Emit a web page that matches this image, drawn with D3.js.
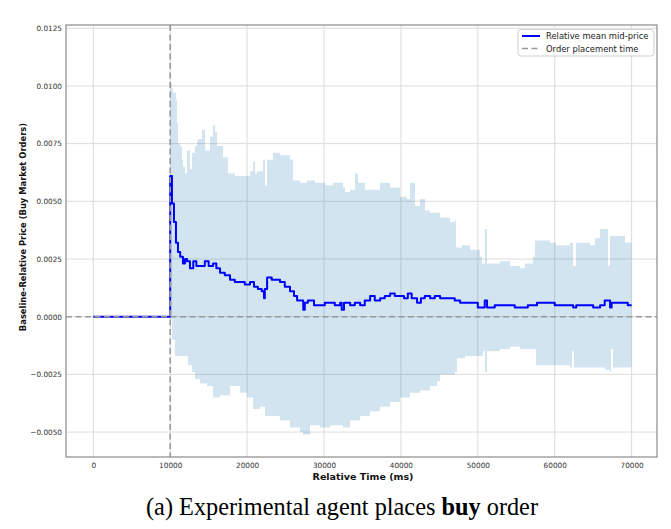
<!DOCTYPE html>
<html><head><meta charset="utf-8">
<script src="https://cdn.jsdelivr.net/npm/d3@7/dist/d3.min.js"></script>
<style>html,body{margin:0;padding:0;background:#fff;}</style>
</head><body>
<svg id="chart" width="671" height="529"></svg>
<script>
// ---- data ----
const xTicks = [0, 10000, 20000, 30000, 40000, 50000, 60000, 70000];
const yTicks = [-0.005, -0.0025, 0, 0.0025, 0.005, 0.0075, 0.01, 0.0125];
const yTickLabels = ["\u22120.0050", "\u22120.0025", "0.0000", "0.0025", "0.0050", "0.0075", "0.0100", "0.0125"];
const orderTime = 10000;

const meanTime = [0, 10000, 10001, 10230, 10490, 10750, 11010, 11300, 11660, 11920, 12180, 12570, 13000, 13400, 13880, 14500, 15000, 15570, 16000, 16480, 17100, 17780, 18400, 19080, 19700, 20380, 20900, 21400, 21900, 22200, 22300, 22600, 23200, 24280, 24900, 25580, 26100, 26500, 26900, 27300, 27500, 27900, 28700, 29500, 30100, 30800, 31400, 32100, 32300, 32600, 33400, 34000, 34700, 35300, 36000, 36600, 37300, 37900, 38600, 39200, 39900, 40400, 40900, 41400, 42100, 42600, 43100, 43800, 44400, 45100, 45700, 46400, 47000, 47700, 49000, 50000, 50400, 50900, 51200, 52200, 53500, 54800, 55500, 56500, 57700, 58700, 60000, 61300, 62100, 62400, 62800, 63900, 65000, 65900, 66500, 67100, 67200, 67400, 68200, 69100, 69500, 70000];
const meanValue = [0, 0, 0.0061, 0.0049, 0.0041, 0.0032, 0.0028, 0.0026, 0.0023, 0.0025, 0.0024, 0.0021, 0.0024, 0.0022, 0.0022, 0.0024, 0.0022, 0.0023, 0.0021, 0.0019, 0.0018, 0.0016, 0.0015, 0.0015, 0.0014, 0.0015, 0.0013, 0.0012, 0.0011, 0.0008, 0.0012, 0.0017, 0.0016, 0.0015, 0.0013, 0.0011, 0.0009, 0.0007, 0.0007, 0.0003, 0.0006, 0.0007, 0.0005, 0.0005, 0.0006, 0.0006, 0.0005, 0.0006, 0.0003, 0.0006, 0.0005, 0.0006, 0.0005, 0.0007, 0.0009, 0.0007, 0.0008, 0.0009, 0.0010, 0.0009, 0.0009, 0.0008, 0.0010, 0.0008, 0.0006, 0.0008, 0.0009, 0.0008, 0.0009, 0.0008, 0.0008, 0.0008, 0.0007, 0.0006, 0.0006, 0.0004, 0.0004, 0.0007, 0.0004, 0.0005, 0.0005, 0.0004, 0.0004, 0.0005, 0.0006, 0.0006, 0.0005, 0.0005, 0.0005, 0.0004, 0.0005, 0.0005, 0.0004, 0.0005, 0.0007, 0.0007, 0.0004, 0.0006, 0.0006, 0.0006, 0.0005, 0.0005];

const upperTime = [0, 10000, 10001, 10230, 10360, 10490, 10750, 10880, 11010, 11270, 11530, 11670, 11930, 12180, 12570, 12840, 13230, 13490, 13620, 14140, 14530, 15180, 15570, 15830, 16090, 16870, 17520, 18430, 19470, 20380, 20770, 21030, 21290, 22070, 22330, 22590, 23370, 24280, 25580, 25970, 26880, 27790, 28830, 30130, 31170, 32470, 32730, 33380, 34030, 34420, 35330, 37280, 38580, 39880, 40790, 41180, 41830, 42480, 43130, 43780, 45080, 46380, 47030, 47160, 47940, 48980, 50280, 50540, 50930, 51190, 52880, 54180, 55480, 56130, 57170, 57430, 59390, 60170, 61990, 62380, 62770, 64590, 65240, 65890, 66540, 66930, 67190, 67580, 69140, 69530, 70000];
const upperValue = [0, 0, 0.0101, 0.0099, 0.0097, 0.0097, 0.0094, 0.0084, 0.0075, 0.0074, 0.0068, 0.0065, 0.0062, 0.0072, 0.0064, 0.0071, 0.0074, 0.0076, 0.0077, 0.0081, 0.0072, 0.0078, 0.0083, 0.0080, 0.0074, 0.0069, 0.0062, 0.0061, 0.0061, 0.0063, 0.0067, 0.0062, 0.0063, 0.0068, 0.0057, 0.0068, 0.0071, 0.0070, 0.0068, 0.0059, 0.0058, 0.0059, 0.0058, 0.0057, 0.0058, 0.0056, 0.0054, 0.0055, 0.0062, 0.0058, 0.0055, 0.0058, 0.0056, 0.0052, 0.0051, 0.0058, 0.0048, 0.0051, 0.0046, 0.0045, 0.0043, 0.0041, 0.0042, 0.0030, 0.0031, 0.0029, 0.0026, 0.0023, 0.0038, 0.0023, 0.0024, 0.0022, 0.0021, 0.0023, 0.0026, 0.0033, 0.0032, 0.0031, 0.0032, 0.0022, 0.0032, 0.0031, 0.0034, 0.0038, 0.0038, 0.0022, 0.0035, 0.0035, 0.0032, 0.0032, 0.0032];

const lowerTime = [0, 10000, 10001, 10230, 10620, 11670, 12320, 12840, 13230, 13880, 14790, 15570, 16480, 17780, 18690, 19080, 19990, 20770, 21680, 22330, 23370, 24280, 25580, 26880, 27270, 28180, 29480, 30780, 32470, 33380, 34680, 35980, 37280, 38580, 39880, 41180, 42480, 43780, 44690, 45080, 46380, 47030, 47290, 48330, 50280, 50670, 50930, 51190, 52880, 54180, 55480, 57430, 57560, 59390, 61990, 62250, 62510, 64590, 66540, 67190, 67320, 67580, 70000];
const lowerValue = [0, 0, -0.0001, -0.0010, -0.0017, -0.0017, -0.0021, -0.0024, -0.0027, -0.0029, -0.0030, -0.0035, -0.0034, -0.0030, -0.0030, -0.0033, -0.0035, -0.0040, -0.0039, -0.0043, -0.0043, -0.0045, -0.0048, -0.0050, -0.0051, -0.0047, -0.0048, -0.0047, -0.0048, -0.0045, -0.0043, -0.0041, -0.0039, -0.0037, -0.0035, -0.0033, -0.0032, -0.0030, -0.0028, -0.0025, -0.0025, -0.0024, -0.0018, -0.0017, -0.0017, -0.0015, -0.0024, -0.0015, -0.0014, -0.0013, -0.0014, -0.0014, -0.0021, -0.0021, -0.0022, -0.0015, -0.0022, -0.0022, -0.0023, -0.0024, -0.0014, -0.0022, -0.0022];

// ---- layout ----
const svg = d3.select("#chart");
const m = {left: 66, top: 25, right: 657, bottom: 457};
const x = d3.scaleLinear().domain([-3550, 73300]).range([m.left, m.right]);
const y = d3.scaleLinear().domain([-0.00608, 0.01264]).range([m.bottom, m.top]);
const W = m.right - m.left, H = m.bottom - m.top;

svg.append("defs").append("clipPath").attr("id", "clip")
  .append("rect").attr("x", m.left).attr("y", m.top).attr("width", W).attr("height", H);

// grid
const g = svg.append("g");
g.selectAll("line.gx").data(xTicks).join("line")
  .attr("x1", d => x(d)).attr("x2", d => x(d)).attr("y1", m.top).attr("y2", m.bottom)
  .attr("stroke", "#dcdcdc").attr("stroke-width", 1);
g.selectAll("line.gy").data(yTicks).join("line")
  .attr("y1", d => y(d)).attr("y2", d => y(d)).attr("x1", m.left).attr("x2", m.right)
  .attr("stroke", "#dcdcdc").attr("stroke-width", 1);

const plot = svg.append("g").attr("clip-path", "url(#clip)");

// band polygon (stepped edges)
const upPts = upperTime.map((t, i) => [x(t), y(upperValue[i])]);
const loPtsRev = lowerTime.map((t, i) => [x(t), y(lowerValue[i])]).reverse();
const upPath = d3.line().curve(d3.curveStepAfter)(upPts);
const loPath = d3.line().curve(d3.curveStepBefore)(loPtsRev).replace(/^M/, "L");
plot.append("path")
  .attr("d", upPath + loPath + "Z")
  .attr("fill", "#1f77b4").attr("fill-opacity", 0.2).attr("stroke", "none");

// mean line
plot.append("path")
  .datum(meanTime.map((t, i) => [t, meanValue[i]]))
  .attr("d", d3.line().curve(d3.curveStepAfter).x(d => x(d[0])).y(d => y(d[1])))
  .attr("fill", "none").attr("stroke", "#0000ff").attr("stroke-width", 2)
  .attr("stroke-linejoin", "round");

// dashed reference lines
plot.append("line").attr("x1", m.left).attr("x2", m.right).attr("y1", y(0)).attr("y2", y(0))
  .attr("stroke", "#999").attr("stroke-width", 1.6).attr("stroke-dasharray", "6,3.5");
plot.append("line").attr("x1", x(orderTime)).attr("x2", x(orderTime)).attr("y1", m.top).attr("y2", m.bottom)
  .attr("stroke", "#999").attr("stroke-width", 1.6).attr("stroke-dasharray", "6,3.5");

// frame
svg.append("rect").attr("x", m.left).attr("y", m.top).attr("width", W).attr("height", H)
  .attr("fill", "none").attr("stroke", "#8a8a8a").attr("stroke-width", 1.2);

// axes
const xAxis = d3.axisBottom(x).tickValues(xTicks).tickSize(0).tickPadding(6).tickFormat(d3.format("d"));
const yAxis = d3.axisLeft(y).tickValues(yTicks).tickSize(0).tickPadding(4)
  .tickFormat((d, i) => yTickLabels[i]);
const gx = svg.append("g").attr("transform", `translate(0,${m.bottom})`).call(xAxis);
const gy = svg.append("g").attr("transform", `translate(${m.left},0)`).call(yAxis);
[gx, gy].forEach(a => {
  a.select(".domain").remove();
  a.selectAll("text").attr("font-family", "DejaVu Sans").attr("font-size", 7.3).attr("fill", "#333");
});

// labels
svg.append("text").attr("x", 363).attr("y", 480)
  .attr("text-anchor", "middle").attr("font-family", "DejaVu Sans").attr("font-weight", "bold")
  .attr("font-size", 9.5).attr("fill", "#111").text("Relative Time (ms)");
svg.append("text").attr("transform", `translate(26,227) rotate(-90)`)
  .attr("text-anchor", "middle").attr("font-family", "DejaVu Sans").attr("font-weight", "bold")
  .attr("font-size", 8.4).attr("fill", "#111").text("Baseline-Relative Price (Buy Market Orders)");

// legend
const lg = svg.append("g");
lg.append("rect").attr("x", 518).attr("y", 29.5).attr("width", 136).attr("height", 26.5).attr("rx", 3)
  .attr("fill", "#fff").attr("fill-opacity", 0.85).attr("stroke", "#cfcfcf").attr("stroke-width", 1);
lg.append("line").attr("x1", 522).attr("x2", 540).attr("y1", 36).attr("y2", 36)
  .attr("stroke", "#0000ff").attr("stroke-width", 2);
lg.append("line").attr("x1", 522).attr("x2", 540).attr("y1", 48.5).attr("y2", 48.5)
  .attr("stroke", "#999").attr("stroke-width", 1.6).attr("stroke-dasharray", "6,3.5");
lg.append("text").attr("x", 546).attr("y", 39).attr("font-family", "DejaVu Sans").attr("font-size", 8.4)
  .attr("fill", "#222").text("Relative mean mid-price");
lg.append("text").attr("x", 546).attr("y", 51.5).attr("font-family", "DejaVu Sans").attr("font-size", 8.4)
  .attr("fill", "#222").text("Order placement time");

// caption
const cap = svg.append("text").attr("x", 342).attr("y", 515).attr("text-anchor", "middle")
  .attr("font-family", "Liberation Serif").attr("font-size", 24.3).attr("fill", "#000");
cap.append("tspan").text("(a) Experimental agent places ");
cap.append("tspan").attr("font-weight", "bold").text("buy");
cap.append("tspan").text(" order");
</script>
</body></html>
